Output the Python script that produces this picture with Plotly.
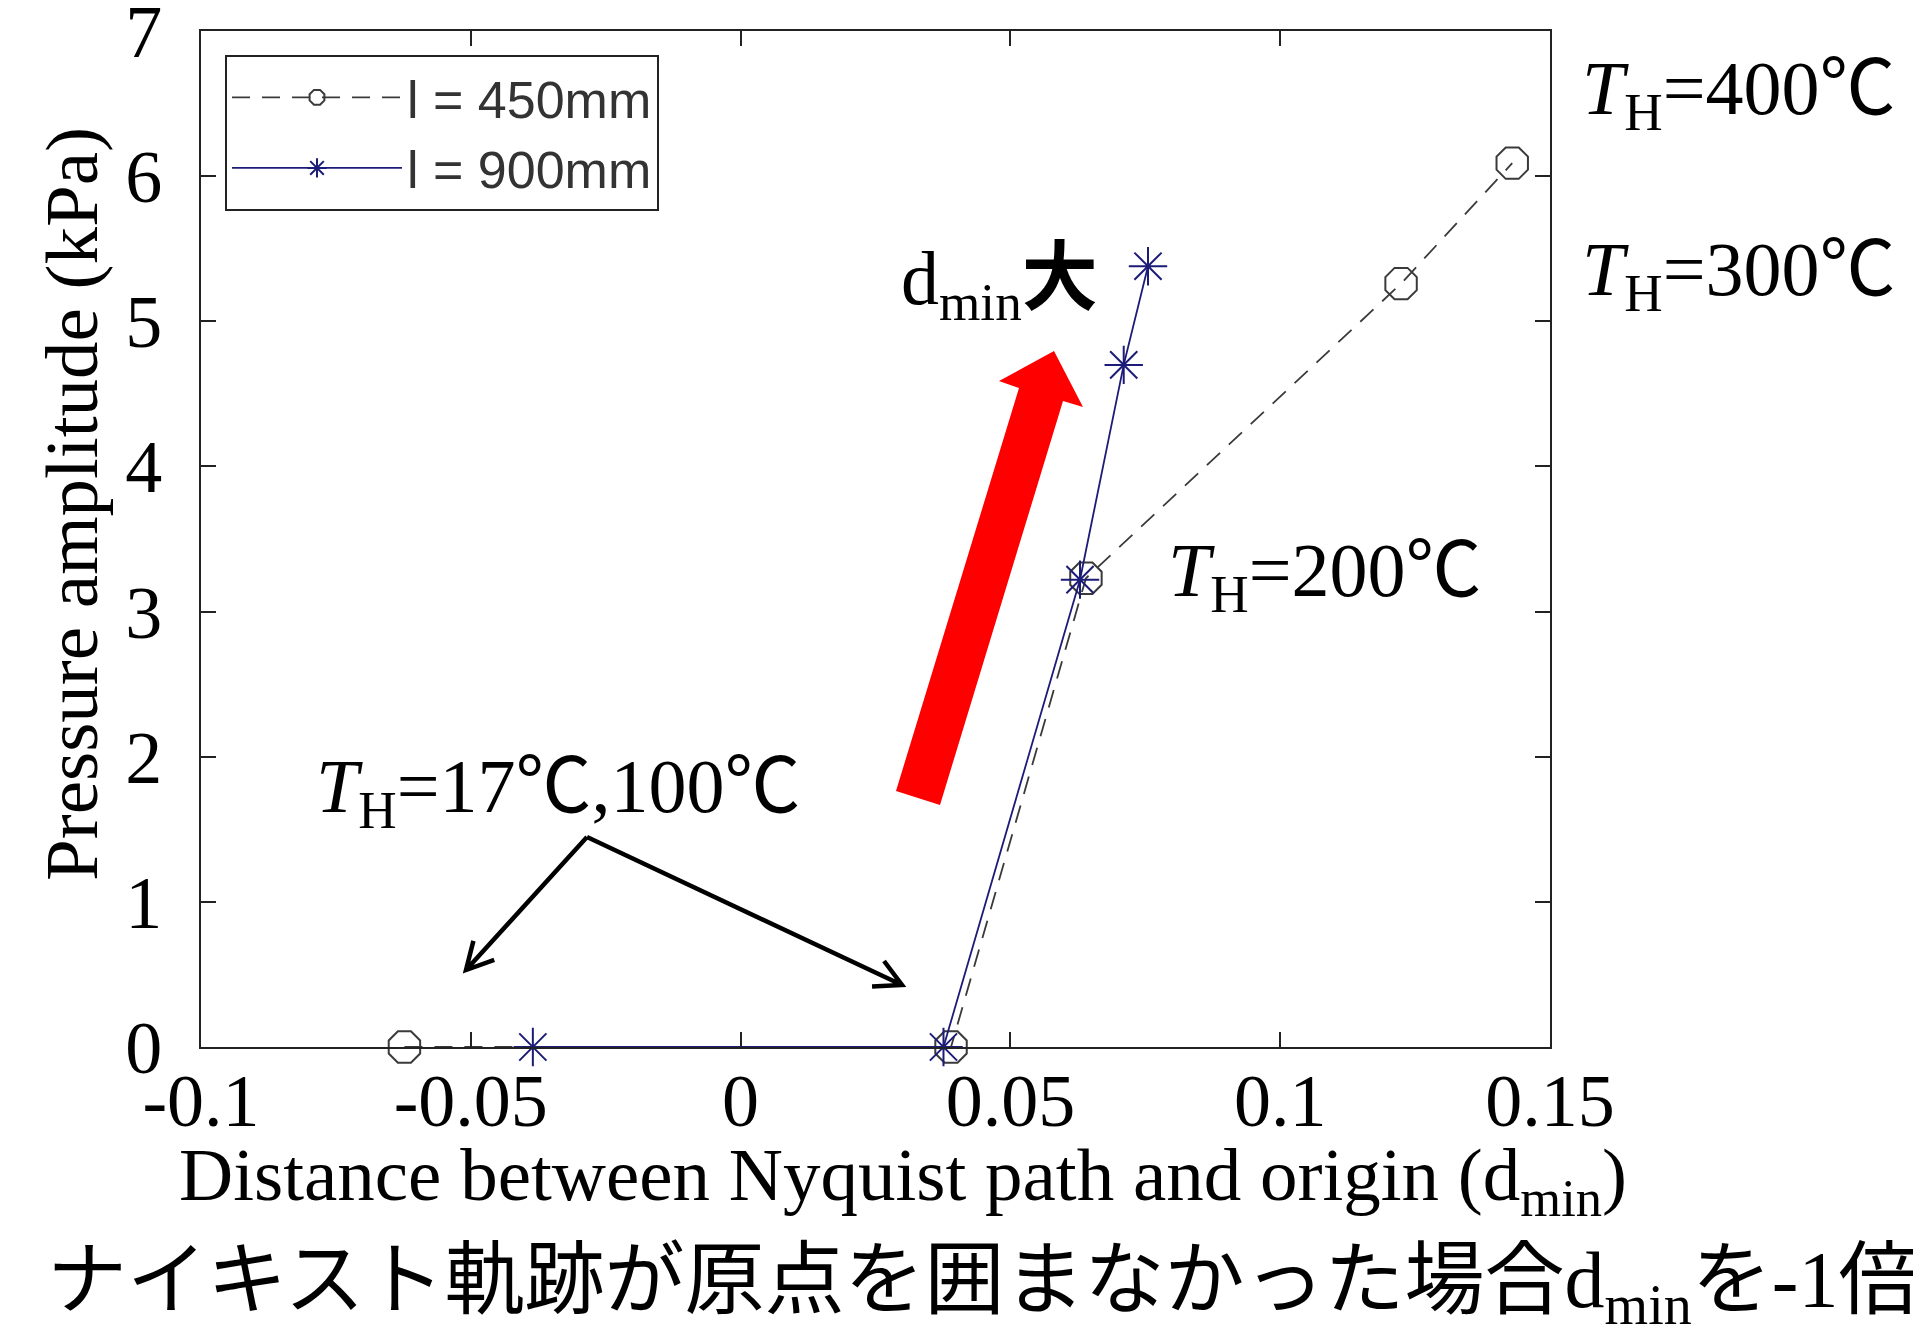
import math
import plotly.graph_objects as go

# ---- data ----
series_names = ["l = 450mm", "l = 900mm"]
dmin_450 = [-0.0623, 0.0390, 0.0640, 0.1224, 0.1430]
amp_450 = [0.0, 0.0, 3.23, 5.26, 6.09]
dmin_900 = [-0.0385, 0.0376, 0.0629, 0.0710, 0.0755]
amp_900 = [0.0, 0.0, 3.22, 4.70, 5.38]
x_tickvals = [-0.1, -0.05, 0, 0.05, 0.1, 0.15]
x_ticktext = ["-0.1", "-0.05", "0", "0.05", "0.1", "0.15"]
y_tickvals = [0, 1, 2, 3, 4, 5, 6, 7]

W, H = 1921, 1331
L, R, T, B = 193, 1542, 23, 1039

SERIF = "Liberation Serif"
JP = "Noto Sans CJK JP"


def px(x):
    return (x - L) / (R - L)


def py(y):
    return (B - y) / (B - T)


fig = go.Figure()
fig.add_trace(go.Scatter(
    x=dmin_450, y=amp_450, name=series_names[0], mode="lines+markers",
    line=dict(color="#3a3a3a", width=1.8, dash="18px,12px"),
    marker=dict(symbol="octagon-open", size=34, color="#3a3a3a", line=dict(width=2, color="#3a3a3a")),
    cliponaxis=False,
))
fig.add_trace(go.Scatter(
    x=dmin_900, y=amp_900, name=series_names[1], mode="lines+markers",
    line=dict(color="#1c1c78", width=1.8),
    marker=dict(symbol="asterisk-open", size=32, color="#1c1c78", line=dict(width=2, color="#1c1c78")),
    cliponaxis=False,
))

axis_common = dict(
    showline=True, linecolor="#222222", linewidth=2, mirror="allticks",
    ticks="inside", ticklen=15, tickwidth=2, tickcolor="#222222",
    showgrid=False, zeroline=False, ticklabeloverflow="allow", automargin=False,
    tickfont=dict(family=SERIF, size=74, color="black"),
)

fig.update_layout(
    width=W, height=H,
    margin=dict(l=L, r=W - R, t=T, b=H - B, autoexpand=False),
    paper_bgcolor="white", plot_bgcolor="white",
    xaxis=dict(range=[-0.1, 0.15], tickvals=x_tickvals, ticktext=x_ticktext,
               ticklabelstandoff=-12, **axis_common),
    yaxis=dict(range=[0, 7.0005], tickvals=y_tickvals, ticklabelstandoff=22,
               **axis_common),
    legend=dict(x=px(217), y=py(47), xanchor="left", yanchor="top",
                bgcolor="white", bordercolor="#222222", borderwidth=2,
                font=dict(family="Liberation Sans", size=52, color="#333333"),
                itemwidth=170, tracegroupgap=0),
    showlegend=True,
)

# ---- axis titles ----
fig.add_annotation(text="Distance between Nyquist path and origin (d<sub>min</sub>)",
                   x=px(895), y=py(1172), xref="paper", yref="paper",
                   xanchor="center", yanchor="middle", showarrow=False,
                   font=dict(family=SERIF, size=75, color="black"))
fig.add_annotation(text="Pressure amplitude (kPa)", textangle=-90,
                   x=px(64), y=py(496), xref="paper", yref="paper",
                   xanchor="center", yanchor="middle", showarrow=False,
                   font=dict(family=SERIF, size=75, color="black"))

# ---- text annotations ----
ann_font = dict(family=SERIF, size=76, color="black")
DEG = "<span style='font-family:Noto Sans CJK JP'>℃</span>"
labels = [
    (f"<i>T</i><sub>H</sub>=400{DEG}", 1572, 76),
    (f"<i>T</i><sub>H</sub>=300{DEG}", 1572, 257),
    (f"<i>T</i><sub>H</sub>=200{DEG}", 1158, 558),
    (f"<i>T</i><sub>H</sub>=17{DEG},100{DEG}", 306, 774),
    ("d<sub>min</sub><span style='font-family:Noto Sans CJK JP;font-weight:bold'>大</span>", 891, 266),
]
for txt, x0, y0 in labels:
    fig.add_annotation(text=txt, x=px(x0), y=py(y0), xref="paper", yref="paper",
                       xanchor="left", yanchor="middle", showarrow=False, font=ann_font)

jp_line = ("<span style='font-family:Noto Sans CJK JP'>ナイキスト軌跡が原点を囲まなかった場合</span>"
           "d<sub>min</sub><span style='font-family:Noto Sans CJK JP'>を</span>-1"
           "<span style='font-family:Noto Sans CJK JP'>倍</span>")
fig.add_annotation(text=jp_line, x=px(974), y=py(1267), xref="paper", yref="paper",
                   xanchor="center", yanchor="middle", showarrow=False,
                   font=dict(family=SERIF, size=80, color="black"))

# ---- red arrow (polygon in pixel space -> paper) ----
red_pts = [(888, 783), (932, 797), (1055, 393), (1075, 399), (1046, 343), (991, 373), (1011, 380)]
path = "M " + " L ".join(f"{px(a):.5f},{py(b):.5f}" for a, b in red_pts) + " Z"
fig.add_shape(type="path", path=path, xref="paper", yref="paper",
              fillcolor="#ff0000", line=dict(width=0), layer="above")

# ---- black arrows ----
apex = (579, 829)
for tip in [(458, 962), (894, 977)]:
    dx, dy = tip[0] - apex[0], tip[1] - apex[1]
    ln = math.hypot(dx, dy)
    ux, uy = dx / ln, dy / ln
    barbs = []
    for sgn in (1, -1):
        ang = math.radians(28) * sgn
        bx = -(ux * math.cos(ang) - uy * math.sin(ang))
        by = -(ux * math.sin(ang) + uy * math.cos(ang))
        barbs.append((tip[0] + 30 * bx, tip[1] + 30 * by))
    p = (f"M {px(apex[0]):.5f},{py(apex[1]):.5f} L {px(tip[0]):.5f},{py(tip[1]):.5f} "
         f"M {px(barbs[0][0]):.5f},{py(barbs[0][1]):.5f} L {px(tip[0]):.5f},{py(tip[1]):.5f} "
         f"L {px(barbs[1][0]):.5f},{py(barbs[1][1]):.5f}")
    fig.add_shape(type="path", path=p, xref="paper", yref="paper",
                  line=dict(color="black", width=4.5), layer="above")

fig.write_html("out.html")
